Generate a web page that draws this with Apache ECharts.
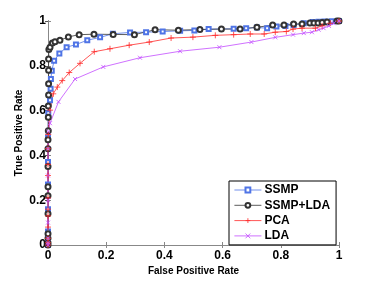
<!DOCTYPE html>
<html><head><meta charset="utf-8">
<script src="https://cdn.jsdelivr.net/npm/echarts@6/dist/echarts.min.js"></script>
<style>html,body{margin:0;padding:0;background:#fff}#c{width:374px;height:281px}</style>
</head><body><div id="c"></div>
<script>
const seriesNames = ['SSMP', 'SSMP+LDA', 'PCA', 'LDA'];
const tickLabels = ['0', '0.2', '0.4', '0.6', '0.8', '1'];
const ssmp = [[0,0],[0,0.01],[0,0.05],[0,0.06],[0,0.15],[0,0.16],[0,0.27],[0,0.37],[0,0.48],[0.001,0.588],[0.007,0.646],[0.009,0.697],[0.010,0.741],[0.013,0.778],[0.021,0.822],[0.039,0.855],[0.064,0.883],[0.096,0.895],[0.135,0.914],[0.179,0.927],[0.223,0.943],[0.282,0.949],[0.337,0.950],[0.394,0.953],[0.454,0.956],[0.503,0.958],[0.552,0.964],[0.638,0.965],[0.681,0.968],[0.718,0.971],[0.753,0.968],[0.785,0.975],[0.816,0.978],[0.844,0.982],[0.879,0.990],[0.91,0.995],[0.93,0.997],[0.95,0.998],[0.975,0.999],[1,1]];
const ssmpLda = [[0,0],[0,0.01],[0,0.03],[0,0.05],[0,0.14],[0,0.22],[0,0.26],[0,0.35],[0,0.43],[0,0.47],[0.001,0.51],[0.001,0.57],[0.001,0.62],[0.002,0.67],[0.002,0.72],[0.002,0.78],[0.002,0.83],[0.003,0.873],[0.007,0.883],[0.015,0.902],[0.024,0.907],[0.041,0.914],[0.070,0.929],[0.107,0.939],[0.158,0.941],[0.224,0.940],[0.297,0.939],[0.368,0.961],[0.448,0.959],[0.522,0.962],[0.596,0.964],[0.660,0.964],[0.718,0.972],[0.772,0.982],[0.811,0.982],[0.844,0.987],[0.873,0.987],[0.900,0.991],[0.914,0.991],[0.928,0.991],[0.942,0.993],[0.959,0.996],[0.993,1.0],[1,1]];
const pca = [[0,0],[0,0.01],[0,0.03],[0,0.08],[0,0.13],[0,0.16],[0,0.21],[0,0.31],[0,0.36],[0,0.43],[0.001,0.493],[0.007,0.602],[0.018,0.675],[0.032,0.705],[0.049,0.734],[0.073,0.770],[0.110,0.811],[0.159,0.863],[0.213,0.876],[0.279,0.892],[0.348,0.906],[0.423,0.924],[0.498,0.928],[0.575,0.936],[0.638,0.939],[0.695,0.942],[0.743,0.942],[0.781,0.950],[0.819,0.953],[0.842,0.964],[0.873,0.968],[0.919,0.968],[0.942,0.978],[0.970,0.990],[1,1]];
const lda = [[0,0],[0,0.01],[0,0.03],[0,0.1],[0,0.2],[0,0.31],[0,0.43],[0.001,0.507],[0.007,0.544],[0.036,0.639],[0.093,0.741],[0.190,0.795],[0.316,0.836],[0.454,0.865],[0.589,0.883],[0.699,0.906],[0.781,0.927],[0.842,0.939],[0.879,0.946],[0.907,0.950],[0.930,0.961],[0.947,0.968],[0.965,0.978],[0.982,0.990],[1,1]];

const FONT = 'Liberation Sans';
const fmt = v => tickLabels[Math.round(v * 5)];
const chart = echarts.init(document.getElementById('c'), null, {renderer: 'canvas'});
function mk(name, data, color, symbol, size) {
  return {
    name, type: 'line', data, symbol, symbolSize: size, showSymbol: true,
    lineStyle: {color, width: 0.8},
    itemStyle: {color: color, borderColor: color, borderWidth: 0.8},
    emphasis: {disabled: true}, animation: false, z: 3
  };
}
const plus = 'path://M5,0L5,10M0,5L10,5';
const cross = 'path://M0,0L10,10M10,0L0,10';
chart.setOption({
  animation: false,
  grid: {left: 48, right: 35, top: 21, bottom: 32},
  xAxis: [{
    type: 'value', min: 0, max: 1, interval: 0.2, position: 'bottom',
    name: 'False Positive Rate', nameLocation: 'middle', nameGap: 21, nameMoveOverlap: false,
    nameTextStyle: {fontFamily: FONT, fontWeight: 'bold', fontSize: 10, color: '#000'},
    axisLine: {show: true, lineStyle: {color: '#000', width: 1}},
    axisTick: {show: true, inside: true, length: 3, lineStyle: {color: '#888'}},
    axisLabel: {formatter: fmt, fontFamily: FONT, fontWeight: 'bold', fontSize: 12, color: '#000', margin: 5},
    splitLine: {show: false}
  }, {
    type: 'value', min: 0, max: 1, interval: 0.2, position: 'top',
    axisLine: {show: true, lineStyle: {color: '#888', width: 1}},
    axisTick: {show: true, inside: true, length: 3, lineStyle: {color: '#888'}},
    axisLabel: {show: false}, splitLine: {show: false}
  }],
  yAxis: [{
    type: 'value', min: 0, max: 1, interval: 0.2, position: 'left',
    name: 'True Positive Rate', nameLocation: 'middle', nameGap: 24, nameMoveOverlap: false,
    nameTextStyle: {fontFamily: FONT, fontWeight: 'bold', fontSize: 10, color: '#000'},
    axisLine: {show: true, lineStyle: {color: '#000', width: 1}},
    axisTick: {show: true, inside: true, length: 3, lineStyle: {color: '#888'}},
    axisLabel: {formatter: fmt, fontFamily: FONT, fontWeight: 'bold', fontSize: 12, color: '#000', margin: 2},
    splitLine: {show: false}
  }, {
    type: 'value', min: 0, max: 1, interval: 0.2, position: 'right',
    axisLine: {show: true, lineStyle: {color: '#888', width: 1}},
    axisTick: {show: true, inside: true, length: 3, lineStyle: {color: '#555'}},
    axisLabel: {show: false}, splitLine: {show: false}
  }],
  legend: {
    orient: 'vertical', left: 229, top: 181, width: 105,
    padding: [3, 6, 3, 5], itemGap: 3.3, itemWidth: 27, itemHeight: 6,
    backgroundColor: '#fff', borderColor: '#000', borderWidth: 1,
    lineStyle: {width: 0.8},
    itemStyle: {borderWidth: 0.8},
    textStyle: {fontFamily: FONT, fontWeight: 'bold', fontSize: 12, color: '#000', padding: [0,0,0,-2]},
    data: seriesNames
  },
  series: [
    mk(seriesNames[0], ssmp, '#4f74e6', 'emptyRect', 4),
    mk(seriesNames[1], ssmpLda, '#333333', 'emptyCircle', 5),
    mk(seriesNames[2], pca, '#ff2a2a', plus, 6),
    mk(seriesNames[3], lda, '#c34dff', cross, 4)
  ]
});
</script></body></html>
